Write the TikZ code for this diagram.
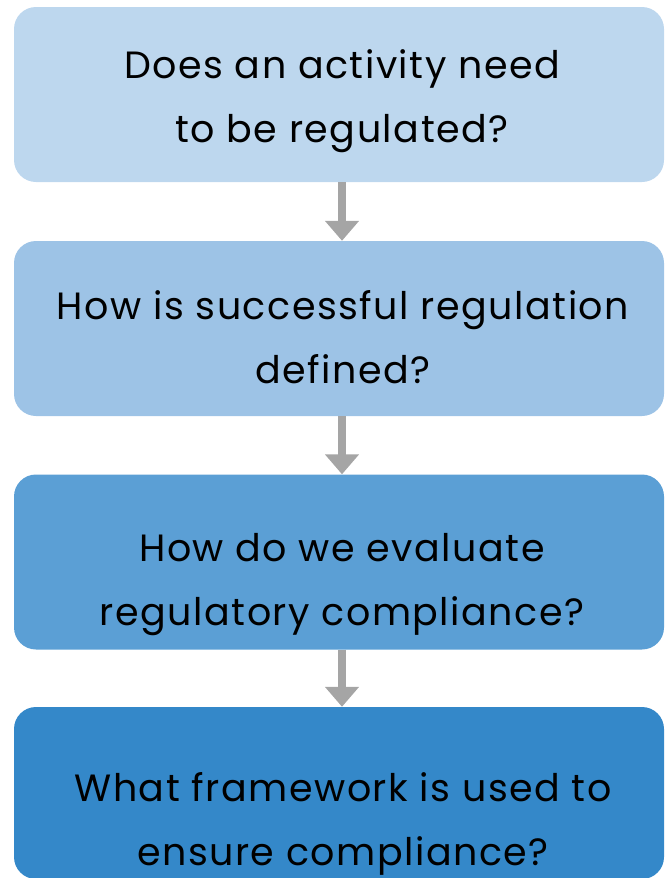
\documentclass[tikz,border=0pt]{standalone}
\usepackage{fontspec}
\setmainfont{Poppins}[LetterSpace=4]
\usetikzlibrary{arrows.meta}
\definecolor{qone}{HTML}{BDD7EE}
\definecolor{qtwo}{HTML}{9DC3E6}
\definecolor{qthree}{HTML}{5B9FD5}
\definecolor{qfour}{HTML}{3488C9}
\definecolor{arrowgray}{HTML}{A5A5A5}
\begin{document}
\begin{tikzpicture}[x=1pt,y=1pt,
		qbox/.style={rounded corners=22pt, minimum width=650pt, minimum height=175pt, inner sep=0pt},
		qtext/.style={anchor=base, inner sep=0pt, align=center, font=\fontsize{38}{64}\selectfont},
		flow/.style={arrowgray, line width=8pt, -{Triangle[width=33pt,length=20pt]}}]
				\useasboundingbox (0,0) rectangle (664,-878);
				\node (need) [qbox, fill=qone] at (339,-94.5) {};
				\node (success) [qbox, fill=qtwo] at (339,-328.5) {};
				\node (evaluate) [qbox, fill=qthree] at (339,-562) {};
				\node (framework) [qbox, fill=qfour, minimum height=172pt] at (339,-793) {};
				\node (needq) [qtext] at (342,-142) {Does an activity need\\to be regulated?};
				\node (successq) [qtext] at (343,-383) {How is successful regulation\\defined?};
				\node (evaluateq) [qtext] at (342,-625) {How do we evaluate\\regulatory compliance?};
				\node (frameworkq) [qtext] at (343,-865) {What framework is used to\\ensure compliance?};
				\draw[flow] ([xshift=3pt]need.south) -- ([xshift=3pt]success.north);
				\draw[flow] ([xshift=3pt]success.south) -- ([xshift=3pt]evaluate.north);
				\draw[flow] ([xshift=3pt]evaluate.south) -- ([xshift=3pt]framework.north);
			\end{tikzpicture}
\end{document}
